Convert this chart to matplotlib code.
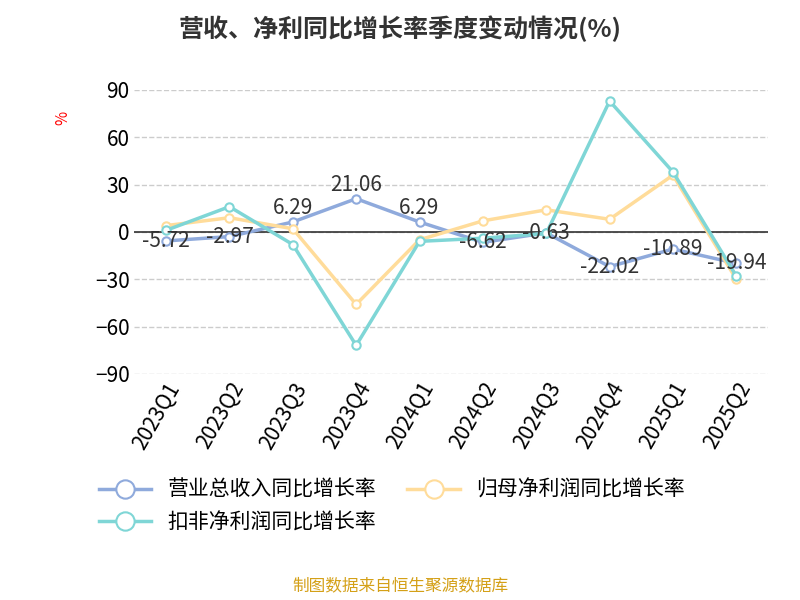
import matplotlib
matplotlib.use("Agg")
import matplotlib.pyplot as plt
import numpy as np

plt.rcParams['font.family'] = ['Noto Sans CJK SC', 'DejaVu Sans']

quarters = ["2023Q1", "2023Q2", "2023Q3", "2023Q4", "2024Q1",
            "2024Q2", "2024Q3", "2024Q4", "2025Q1", "2025Q2"]
revenue = [-5.72, -2.97, 6.29, 21.06, 6.29, -6.62, -0.63, -22.02, -10.89, -19.94]
net_profit = [4, 9, 2, -46, -5, 7, 14, 8, 36, -30]
deducted = [1, 16, -8, -72, -6, -4, -1, 83, 38, -28]

names = ["营业总收入同比增长率", "归母净利润同比增长率", "扣非净利润同比增长率"]
colors = ["#8faadc", "#ffdc9a", "#7fd6d6"]

fig = plt.figure(figsize=(8, 6), dpi=100)
ax = fig.add_axes([0.168, 0.377, 0.792, 0.473])
x = np.arange(len(quarters))
lines = []
for vals, c, n in zip([revenue, net_profit, deducted], colors, names):
    ln, = ax.plot(x, vals, color=c, lw=2.5, marker='o', ms=6, mfc='white',
                  mec=c, mew=1.5, label=n, zorder=3)
    lines.append(ln)

for xi, v in zip(x, revenue):
    ax.text(xi, v + (2 if v > 0 else 0), f"{v:.2f}", ha='center',
            va='bottom' if v > 0 else 'center', fontsize=15, color='#333333', zorder=4)

ax.axhline(0, color='#333333', lw=1.2, zorder=2)
ax.set_xlim(-0.5, 9.5)
ax.set_ylim(-90, 90)
ax.set_yticks(range(-90, 91, 30))
ax.set_xticks(x)
ax.set_xticklabels(quarters)
plt.setp(ax.get_xticklabels(), rotation=60, ha='right', rotation_mode='anchor', fontsize=15)
ax.tick_params(axis='y', labelsize=15, length=0)
ax.tick_params(axis='x', length=0)
ax.grid(axis='y', ls='--', color='#cccccc', lw=1)
for s in ['top', 'right', 'left', 'bottom']:
    ax.spines[s].set_visible(False)
ax.set_ylabel('%', color='red', fontsize=11)
ax.yaxis.set_label_coords(-0.1, 0.9)

fig.suptitle("营收、净利同比增长率季度变动情况(%)", fontsize=18, fontweight='bold',
             color='#333333', y=0.975)
fig.legend([lines[0], lines[2], lines[1]], [names[0], names[2], names[1]],
           loc='lower left', bbox_to_anchor=(0.1, 0.08), ncol=2, frameon=False,
           fontsize=15, markerscale=2.2, handlelength=2.5, columnspacing=1.5)
fig.text(0.5, 0.015, "制图数据来自恒生聚源数据库", ha='center', fontsize=12, color='#d4a017')
fig.savefig("out.png")
